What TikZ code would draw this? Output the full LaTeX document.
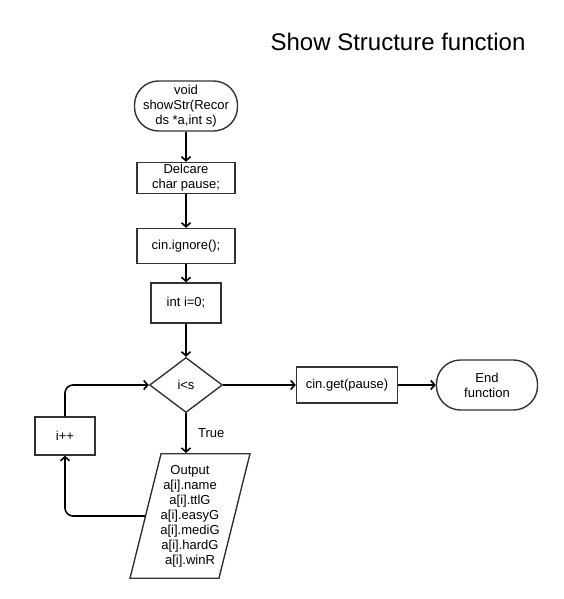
\documentclass[tikz,border=0pt]{standalone}
\usepackage{fontspec}
\setmainfont{Liberation Sans}
\usetikzlibrary{shapes.geometric,arrows.meta}
\begin{document}
\begin{tikzpicture}[x=1pt,y=-1pt,
  font=\fontsize{13}{15}\selectfont,
  box/.style={draw=black!80, line width=1.4pt, align=center, inner sep=2pt},
  term/.style={box, rounded corners=24pt},
  flow/.style={line width=1.6pt, -{Straight Barb[length=4pt,width=9pt]}}]
\useasboundingbox (0,0) rectangle (564,599);
\node[font=\fontsize{24}{28}\selectfont] (title) at (398,42) {Show Structure function};
\node[term, minimum width=103pt, minimum height=50pt] (start) at (186,106) {void\\showStr(Recor\\ds *a,int s)};
\node[box, minimum width=98pt, minimum height=30pt] (decl) at (186,178) {Delcare\\char pause;};
\node[box, minimum width=98pt, minimum height=35pt] (ign) at (186,246) {cin.ignore();};
\node[box, minimum width=70pt, minimum height=40pt] (init) at (186,303) {int i=0;};
\node[box, diamond, aspect=1.33, inner sep=1pt, minimum width=73pt, minimum height=55pt] (cond) at (186,385) {i<s};
\node[box, minimum width=101pt, minimum height=36pt] (get) at (347,385) {cin.get(pause)};
\node[term, minimum width=101pt, minimum height=50pt] (end) at (487,385) {End\\function};
\node[box, minimum width=60pt, minimum height=38pt] (inc) at (65,436) {i++};
\node[box, trapezium, trapezium left angle=76, trapezium right angle=104, minimum width=120pt, minimum height=123pt, inner xsep=-5pt] (out) at (190,516) {Output\\a[i].name\\a[i].ttlG\\a[i].easyG\\a[i].mediG\\a[i].hardG\\a[i].winR};
\draw[flow] (start) -- (decl);
\draw[flow] (decl) -- (ign);
\draw[flow] (ign) -- (init);
\draw[flow] (init) -- (cond);
\draw[flow] (cond.south) -- node[right=8pt] {True} (cond.south |- out.north);
\draw[flow] (cond) -- (get);
\draw[flow] (get) -- (end);
\draw[flow, rounded corners=8pt] (out.west) -| (inc.south);
\draw[flow, rounded corners=8pt] (inc.north) |- (cond.west);
\end{tikzpicture}
\end{document}
